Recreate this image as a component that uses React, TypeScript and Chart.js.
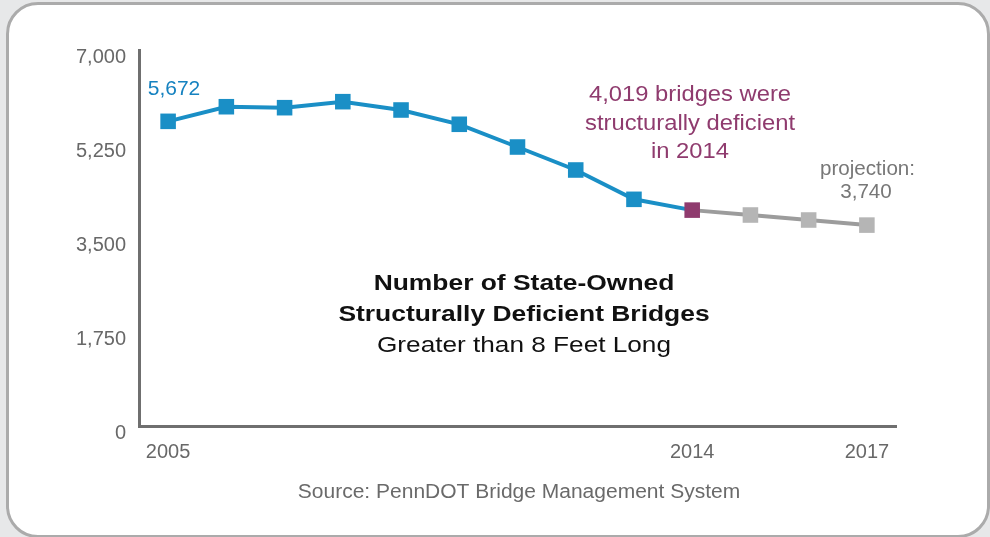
import React, { useEffect, useRef } from 'react';
import { Chart, registerables } from 'chart.js';

Chart.register(...registerables);

// ---- data ----
const actualYears = [2005, 2006, 2007, 2008, 2009, 2010, 2011, 2012, 2013, 2014];
const actualValues = [5672, 5944, 5926, 6038, 5883, 5617, 5194, 4766, 4220, 4019];
const projectionYears = [2014, 2015, 2016, 2017];
const projectionValues = [4019, 3928, 3835, 3740];
const xTickYears = [2005, 2014, 2017];
const yTickValues = [0, 1750, 3500, 5250, 7000];

const titleLines = ['Number of State-Owned', 'Structurally Deficient Bridges'];
const subtitleLine = 'Greater than 8 Feet Long';
const sourceText = 'Source: PennDOT Bridge Management System';

const FONT = '"Liberation Sans", Arial, Helvetica, sans-serif';
const BLUE = '#1a8fc6';
const BLUE_TEXT = '#1682c0';
const PURPLE = '#8f3b6e';
const GRAY_LINE = '#9c9c9c';
const GRAY_MARK = '#b5b5b5';
const AXIS = '#6f6f6f';
const TICK = '#686868';

const fmt = (v: number) => Number(v).toLocaleString('en-US');

function drawText(
  ctx: CanvasRenderingContext2D,
  text: string,
  cx: number,
  baseline: number,
  font: string,
  color: string,
  sx: number,
  align: CanvasTextAlign = 'center'
) {
  ctx.save();
  ctx.font = font;
  ctx.fillStyle = color;
  ctx.textAlign = align;
  ctx.textBaseline = 'alphabetic';
  ctx.translate(cx, baseline);
  ctx.scale(sx, 1);
  ctx.fillText(text, 0, 0);
  ctx.restore();
}

const textPlugin = {
  id: 'annotTexts',
  afterDraw(chart: any) {
    const ctx = chart.ctx as CanvasRenderingContext2D;
    // first value label
    drawText(ctx, fmt(actualValues[0]), 174, 95, `21px ${FONT}`, BLUE_TEXT, 1.0);
    // 2014 callout
    const last = actualValues[actualValues.length - 1];
    const lastYear = actualYears[actualYears.length - 1];
    const f22 = `22px ${FONT}`;
    drawText(ctx, `${fmt(last)} bridges were`, 690, 101, f22, PURPLE, 1.08);
    drawText(ctx, 'structurally deficient', 690, 129.5, f22, PURPLE, 1.08);
    drawText(ctx, `in ${lastYear}`, 690, 158, f22, PURPLE, 1.08);
    // projection
    const f20 = `20px ${FONT}`;
    drawText(ctx, 'projection:', 867.5, 175, f20, '#777777', 1.03);
    drawText(ctx, fmt(projectionValues[projectionValues.length - 1]), 866, 197.5, f20, '#777777', 1.03);
    // title
    drawText(ctx, titleLines[0], 524, 290, `bold 22px ${FONT}`, '#111111', 1.2);
    drawText(ctx, titleLines[1], 524, 321, `bold 22px ${FONT}`, '#111111', 1.2);
    drawText(ctx, subtitleLine, 524, 352, `22px ${FONT}`, '#111111', 1.19);
    // source
    drawText(ctx, sourceText, 519, 498, f20, '#6a6a6a', 1.05);
  },
};

export default function App() {
  const ref = useRef<HTMLCanvasElement | null>(null);

  useEffect(() => {
    if (!ref.current) return;
    const chart = new Chart(ref.current, {
      type: 'line',
      data: {
        datasets: [
          {
            label: 'Actual',
            data: actualYears.map((y, i) => ({ x: y, y: actualValues[i] })),
            borderColor: BLUE,
            borderWidth: 4,
            pointStyle: 'rect',
            pointRadius: 11,
            pointHoverRadius: 11,
            pointBorderWidth: 0,
            pointBackgroundColor: actualYears.map((_, i) => (i === actualYears.length - 1 ? PURPLE : BLUE)),
            pointBorderColor: actualYears.map((_, i) => (i === actualYears.length - 1 ? PURPLE : BLUE)),
            tension: 0,
            fill: false,
          },
          {
            label: 'Projection',
            data: projectionYears.map((y, i) => ({ x: y, y: projectionValues[i] })),
            borderColor: GRAY_LINE,
            borderWidth: 4,
            pointStyle: 'rect',
            pointRadius: projectionYears.map((_, i) => (i === 0 ? 0 : 11)),
            pointHoverRadius: 11,
            pointBorderWidth: 0,
            pointBackgroundColor: GRAY_MARK,
            pointBorderColor: GRAY_MARK,
            tension: 0,
            fill: false,
          },
        ],
      },
      options: {
        responsive: false,
        maintainAspectRatio: false,
        animation: false,
        layout: { padding: { left: 0, right: 94, top: 50, bottom: 71 } },
        plugins: {
          legend: { display: false },
          tooltip: { enabled: false },
          title: { display: false },
        },
        scales: {
          x: {
            type: 'linear',
            min: 2004.5,
            max: 2017.5,
            grid: { display: false, drawTicks: false },
            border: { display: true, color: AXIS, width: 3 },
            afterBuildTicks: (s: any) => {
              s.ticks = xTickYears.map((v) => ({ value: v }));
            },
            afterFit: (s: any) => {
              s.height = 40;
            },
            ticks: {
              autoSkip: false,
              maxRotation: 0,
              padding: 14,
              color: TICK,
              font: { family: FONT, size: 20 },
              callback: (v: any) => String(v),
            },
          },
          y: {
            type: 'linear',
            min: 0,
            max: 7000,
            grid: { display: false, drawTicks: false },
            border: { display: true, color: AXIS, width: 3 },
            afterBuildTicks: (s: any) => {
              s.ticks = yTickValues.map((v) => ({ value: v }));
            },
            afterFit: (s: any) => {
              s.width = 139;
            },
            ticks: {
              padding: 13,
              labelOffset: 7.5,
              color: TICK,
              font: { family: FONT, size: 20 },
              callback: (v: any) => fmt(v),
            },
          },
        },
      },
      plugins: [textPlugin],
    });
    return () => chart.destroy();
  }, []);

  return (
    <div
      style={{
        position: 'fixed',
        left: 0,
        top: 0,
        width: 990,
        height: 537,
        background: '#e7e8e9',
        overflow: 'hidden',
      }}
    >
      <div
        style={{
          position: 'absolute',
          left: 6,
          top: 2,
          width: 984,
          height: 536,
          boxSizing: 'border-box',
          border: '3px solid #ababab',
          borderRadius: 32,
          background: '#ffffff',
        }}
      />
      <canvas
        ref={ref}
        width={990}
        height={537}
        style={{ position: 'absolute', left: 0, top: 0, width: 990, height: 537 }}
      />
    </div>
  );
}
